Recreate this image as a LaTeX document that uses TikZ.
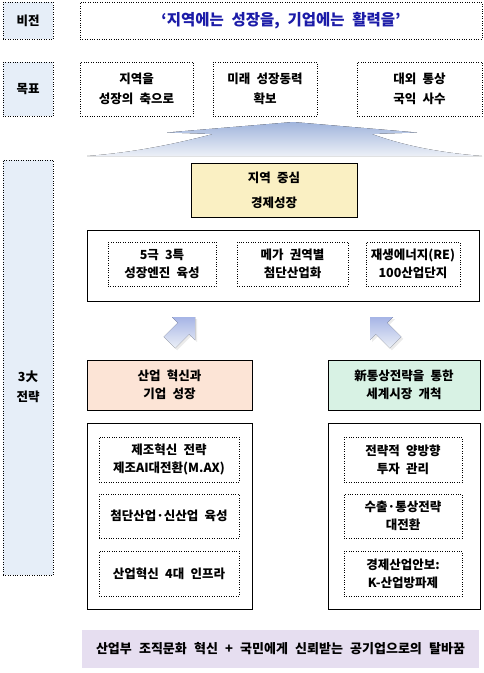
\documentclass[tikz,border=0pt]{standalone}
\usepackage{fontspec}
\setmainfont{Noto Sans CJK KR}
\definecolor{labfill}{RGB}{230,238,248}
\definecolor{titleblue}{RGB}{28,28,168}
\definecolor{coreyellow}{RGB}{250,240,195}
\definecolor{peach}{RGB}{252,228,214}
\definecolor{mint}{RGB}{216,242,228}
\definecolor{lavender}{RGB}{230,222,240}
\definecolor{arrowtop}{RGB}{160,180,220}
\definecolor{arrowbot}{RGB}{236,240,247}
\newcommand{\wsp}[1]{\spaceskip=#1\relax}
\newcommand{\bodyfont}{\fontsize{12.5}{20}\selectfont\bfseries\wsp{0.5em}}
\newcommand{\boxfont}{\fontsize{12.5}{18}\selectfont\bfseries\wsp{0.5em}}
\tikzset{
  lab/.style={draw, dotted, fill=labfill, minimum width=50pt, inner sep=0pt, font=\bodyfont, align=center},
  dotbox/.style={draw, dotted, fill=white, inner sep=0pt, font=\bodyfont, align=center},
  solidbox/.style={draw, line width=0.8pt, inner sep=0pt, align=center, font=\boxfont},
  inbox/.style={draw, dotted, inner sep=0pt, align=center, font=\boxfont},
  blockarrow/.style={top color=arrowtop, bottom color=arrowbot, draw=none}
}
\begin{document}
\begin{tikzpicture}[x=1pt,y=-1pt]
\useasboundingbox (0,0) rectangle (483,673);
% row labels
\node[lab, minimum height=37pt] (lab1) at (28,20.5) {비전};
\node[lab, minimum height=54pt] (lab2) at (28,89) {목표};
\node[lab, minimum height=415pt] (lab3) at (28,367.5) {};
\node[font=\bodyfont, align=center] (lab3t) at (28,387) {3大\\전략};
% vision
\node[dotbox, minimum width=402pt, minimum height=37pt, text=titleblue, font=\fontsize{15.5}{18}\selectfont\bfseries\wsp{0.5em}] (vision) at (281,20.5) {‘지역에는 성장을, 기업에는 활력을’};
% goals
\node[dotbox, minimum width=113pt, minimum height=54pt] (g1) at (136.5,89) {지역을\\성장의 축으로};
\node[dotbox, minimum width=104pt, minimum height=54pt] (g2) at (265,89) {미래 성장동력\\확보};
\node[dotbox, minimum width=125pt, minimum height=54pt] (g3) at (419.5,89) {대외 통상\\국익 사수};
% big arrow
\fill[blockarrow] (293,122) -- (167,132.5) -- (213,134) .. controls (160,148) and (120,153.5) .. (87,156) -- (482,156) .. controls (450,153.5) and (410,148) .. (372,134) -- (417,132.5) -- cycle;
% core
\node[solidbox, fill=coreyellow, minimum width=166pt, minimum height=54pt, font=\fontsize{12.5}{25}\selectfont\bfseries\wsp{0.5em}] (core) at (274,190) {지역 중심\\경제성장};
% big box
\node[solidbox, minimum width=392pt, minimum height=71pt] (big) at (283,265.5) {};
\node[inbox, minimum width=108pt, minimum height=44pt] (i1) at (162,264) {5극 3특\\성장엔진 육성};
\node[inbox, minimum width=111pt, minimum height=44pt] (i2) at (292.5,264) {메가 권역별\\첨단산업화};
\node[inbox, minimum width=94pt, minimum height=44pt] (i3) at (413,264) {재생에너지(RE)\\100산업단지};
% small arrows
\fill[black, opacity=0.08] (197,319) -- (197,342) -- (191.2,336.2) -- (177.1,350.3) -- (165.7,338.9) -- (179.8,324.8) -- (174,319) -- cycle;
\fill[blockarrow, top color=arrowtop!90!blue!80, bottom color=arrowbot] (195,317) -- (195,340) -- (189.2,334.2) -- (175.1,348.3) -- (163.7,336.9) -- (177.8,322.8) -- (172,317) -- cycle;
\fill[black, opacity=0.08] (372,319) -- (372,342) -- (377.8,336.2) -- (391.9,350.3) -- (403.3,338.9) -- (389.2,324.8) -- (395,319) -- cycle;
\fill[blockarrow, top color=arrowtop!90!blue!80, bottom color=arrowbot] (370,317) -- (370,340) -- (375.8,334.2) -- (389.9,348.3) -- (401.3,336.9) -- (387.2,322.8) -- (393,317) -- cycle;
% strategies
\node[solidbox, fill=peach, minimum width=165pt, minimum height=50pt] (s1) at (169.5,385) {산업 혁신과\\기업 성장};
\node[solidbox, fill=mint, minimum width=152pt, minimum height=50pt] (s2) at (404,385) {新통상전략을 통한\\세계시장 개척};
% detail boxes
\node[solidbox, minimum width=165pt, minimum height=186pt] (o1) at (169.5,516) {};
\node[solidbox, minimum width=152pt, minimum height=186pt] (o2) at (404,516) {};
\node[inbox, minimum width=140pt, minimum height=45pt] (l1) at (169,459.5) {제조혁신 전략\\제조AI대전환(M.AX)};
\node[inbox, minimum width=140pt, minimum height=44pt] (l2) at (169,516) {첨단산업·신산업 육성};
\node[inbox, minimum width=140pt, minimum height=45pt] (l3) at (169,573.5) {산업혁신 4대 인프라};
\node[inbox, minimum width=118pt, minimum height=45pt] (r1) at (403,459.5) {전략적 양방향\\투자 관리};
\node[inbox, minimum width=118pt, minimum height=44pt] (r2) at (403,516) {수출·통상전략\\대전환};
\node[inbox, minimum width=118pt, minimum height=45pt] (r3) at (403,573.5) {경제산업안보:\\K-산업방파제};
% bottom
\node[fill=lavender, minimum width=397pt, minimum height=38pt, inner sep=0pt, font=\fontsize{13}{15}\selectfont\bfseries\wsp{0.55em}] (bottom) at (280.5,649) {산업부 조직문화 혁신 + 국민에게 신뢰받는 공기업으로의 탈바꿈};
\end{tikzpicture}
\end{document}
